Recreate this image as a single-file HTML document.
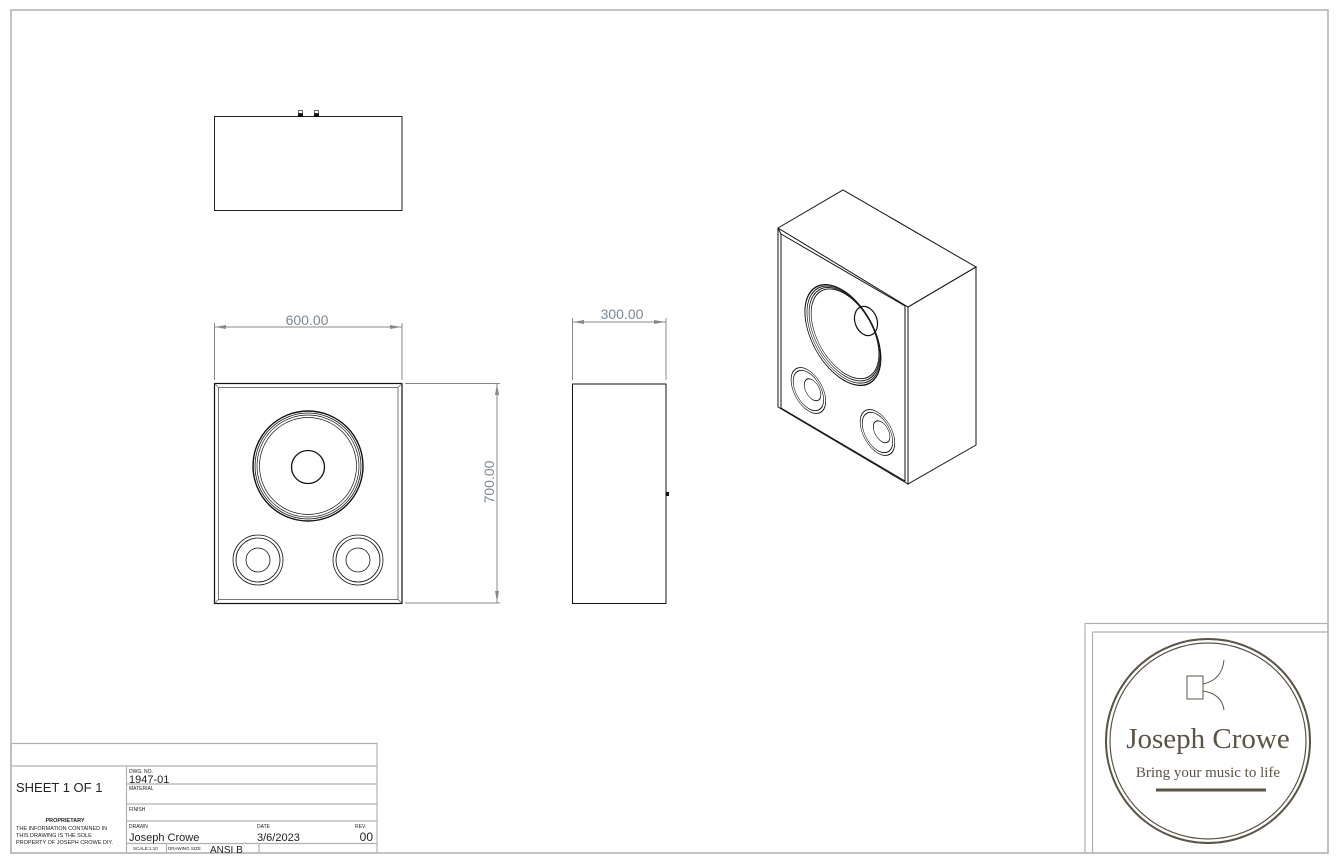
<!DOCTYPE html>
<html><head><meta charset="utf-8"><style>
html,body{margin:0;padding:0;background:#fff;}
svg{display:block;}
text{font-family:"Liberation Sans",sans-serif;}
</style></head><body>
<svg width="1341" height="863" viewBox="0 0 1341 863" xmlns="http://www.w3.org/2000/svg">
<rect x="0" y="0" width="1341" height="863" fill="#fff"/>
<rect x="11" y="10" width="1317" height="843" fill="none" stroke="#b0b0b0" stroke-width="1.5"/>

<!-- top view -->
<rect x="214.5" y="116.5" width="187.5" height="94" fill="none" stroke="#222" stroke-width="1"/>
<rect x="298" y="113" width="5" height="4" fill="#111"/><rect x="314" y="113" width="5" height="4" fill="#111"/>
<rect x="298.5" y="110.5" width="4" height="3" fill="none" stroke="#444" stroke-width="0.8"/>
<rect x="314.5" y="110.5" width="4" height="3" fill="none" stroke="#444" stroke-width="0.8"/>

<!-- front view -->
<g stroke="#888" stroke-width="1" fill="none">
<line x1="214.5" y1="323" x2="214.5" y2="380"/><line x1="402" y1="323" x2="402" y2="380"/>
<line x1="214.5" y1="327" x2="402" y2="327"/>
<line x1="405" y1="383.5" x2="500" y2="383.5"/><line x1="405" y1="603" x2="500" y2="603"/>
<line x1="497" y1="383.5" x2="497" y2="603"/>
<line x1="572.5" y1="318" x2="572.5" y2="380"/><line x1="666" y1="318" x2="666" y2="380"/>
<line x1="572.5" y1="322" x2="666" y2="322"/>
</g>
<g fill="#888">
<polygon points="215,327 226,325 226,329"/><polygon points="401,327 390,325 390,329"/>
<polygon points="497,384 495,395 499,395"/><polygon points="497,602 495,591 499,591"/>
<polygon points="573,322 584,320 584,324"/><polygon points="665,322 654,320 654,324"/>
</g>
<text x="307" y="325" font-size="14" fill="#7b8794" text-anchor="middle">600.00</text>
<text x="622" y="319" font-size="14" fill="#7b8794" text-anchor="middle">300.00</text>
<text x="0" y="0" font-size="14" fill="#7b8794" text-anchor="middle" transform="translate(494,482) rotate(-90)">700.00</text>

<rect x="214.5" y="383.5" width="187.5" height="220" fill="none" stroke="#111" stroke-width="1.2"/>
<rect x="218.5" y="387.5" width="179.5" height="212" fill="none" stroke="#555" stroke-width="0.8"/>
<g stroke="#666" stroke-width="0.8"><line x1="214.5" y1="383.5" x2="218.5" y2="387.5"/><line x1="402" y1="383.5" x2="398" y2="387.5"/><line x1="214.5" y1="603.5" x2="218.5" y2="599.5"/><line x1="402" y1="603.5" x2="398" y2="599.5"/></g>
<g fill="none" stroke="#111">
<circle cx="308" cy="466" r="55" stroke-width="1.4"/>
<circle cx="308" cy="466" r="53" stroke-width="0.8"/>
<circle cx="308" cy="466" r="51" stroke-width="0.7"/>
<circle cx="308" cy="466" r="48.5" stroke-width="0.7"/>
<circle cx="308" cy="467" r="16.5" stroke-width="1.3"/>
<circle cx="258" cy="560" r="25" stroke-width="0.8"/><circle cx="258" cy="560" r="22" stroke-width="0.8"/><circle cx="258" cy="560" r="12" stroke-width="0.8"/>
<circle cx="358" cy="560" r="25" stroke-width="0.8"/><circle cx="358" cy="560" r="22" stroke-width="0.8"/><circle cx="358" cy="560" r="12" stroke-width="0.8"/>
</g>

<!-- side view -->
<rect x="572.5" y="384" width="93.5" height="219.5" fill="none" stroke="#111" stroke-width="1"/>
<rect x="666" y="492" width="3" height="4" fill="#111"/>

<!-- isometric -->
<g fill="none" stroke="#111" stroke-width="1">
<polygon points="778,228 843,190 976,267 908,307"/>
<polygon points="908,307 976,267 976,445 908,484"/>
<polyline points="778,228 778,407 908,484"/>
<polyline points="781,234 781,408 905,481 905,306 781,234"/>
<line x1="778" y1="228" x2="781" y2="234"/>
<g transform="matrix(0.691,0.420,0,0.814,630.1,-173.7)">
<circle cx="308" cy="466" r="55" stroke-width="1.4"/>
<circle cx="309" cy="465" r="53" stroke-width="1"/>
<circle cx="310" cy="464" r="51" stroke-width="1"/>
<circle cx="311" cy="463" r="49" stroke-width="1"/>
<circle cx="258" cy="560" r="25"/><circle cx="258" cy="560" r="22"/><circle cx="264" cy="556" r="12"/>
<circle cx="358" cy="560" r="25"/><circle cx="358" cy="560" r="22"/><circle cx="364" cy="556" r="12"/>
</g>
<ellipse cx="866" cy="321" rx="11" ry="15" transform="rotate(-20 866 321)" stroke-width="1.2"/>
</g>

<!-- title block -->
<g fill="none" stroke="#b0b0b0" stroke-width="1.2">
<rect x="11" y="743.5" width="366" height="109.5"/>
<line x1="11" y1="766" x2="377" y2="766"/>
<line x1="126.5" y1="766" x2="126.5" y2="853"/>
<line x1="126.5" y1="784" x2="377" y2="784"/>
<line x1="126.5" y1="804" x2="377" y2="804"/>
<line x1="126.5" y1="821" x2="377" y2="821"/>
<line x1="126.5" y1="843.5" x2="377" y2="843.5"/>
<line x1="166.5" y1="843.5" x2="166.5" y2="853"/>
<line x1="259" y1="843.5" x2="259" y2="853"/>
</g>
<text x="16" y="792" font-size="13" fill="#222">SHEET 1 OF 1</text>
<text x="65" y="822" font-size="5.5" font-weight="bold" fill="#222" text-anchor="middle">PROPRIETARY</text>
<text x="16" y="830" font-size="5.5" fill="#222">THE INFORMATION CONTAINED IN</text>
<text x="16" y="837" font-size="5.5" fill="#222">THIS DRAWING IS THE SOLE</text>
<text x="16" y="844" font-size="5.5" fill="#222">PROPERTY OF JOSEPH CROWE DIY.</text>
<text x="129" y="773" font-size="5" fill="#222">DWG. NO.</text>
<text x="129" y="783" font-size="11" fill="#222">1947-01</text>
<text x="129" y="790" font-size="5" fill="#222">MATERIAL</text>
<text x="129" y="811" font-size="5" fill="#222">FINISH</text>
<text x="129" y="828" font-size="5" fill="#222">DRAWN</text>
<text x="129" y="841" font-size="11" fill="#222">Joseph Crowe</text>
<text x="257" y="828" font-size="5" fill="#222">DATE</text>
<text x="257" y="841" font-size="11" fill="#222">3/6/2023</text>
<text x="355" y="828" font-size="5" fill="#222">REV.</text>
<text x="373" y="841" font-size="12" fill="#222" text-anchor="end">00</text>
<text x="133" y="850" font-size="4.5" fill="#222">SCALE:1:10</text>
<text x="168" y="850" font-size="4.5" fill="#222">DRAWING SIZE</text>
<text x="210" y="853" font-size="10" fill="#222">ANSI B</text>

<!-- logo block -->
<g fill="none" stroke="#b0b0b0" stroke-width="1.2">
<rect x="1085" y="623.5" width="243" height="229.5"/>
<line x1="1092.5" y1="632" x2="1328" y2="632"/>
<line x1="1092.5" y1="632" x2="1092.5" y2="853"/>
</g>
<g fill="none" stroke="#5a5446">
<circle cx="1208" cy="741" r="102" stroke-width="2"/>
<circle cx="1208" cy="741" r="98" stroke-width="1.2"/>
<rect x="1187" y="676" width="16" height="23" stroke-width="1"/>
<path d="M1203,684 Q1222,680 1224,660" stroke-width="1"/>
<path d="M1203,691 Q1222,694 1224,710" stroke-width="1"/>
<line x1="1156" y1="790" x2="1266" y2="790" stroke-width="3"/>
</g>
<text x="1208" y="748" font-family="Liberation Serif,serif" font-size="29" fill="#5a5446" text-anchor="middle" style="font-family:'Liberation Serif',serif">Joseph Crowe</text>
<text x="1208" y="777" font-size="15" fill="#5a5446" text-anchor="middle" style="font-family:'Liberation Serif',serif">Bring your music to life</text>
</svg>
</body></html>
